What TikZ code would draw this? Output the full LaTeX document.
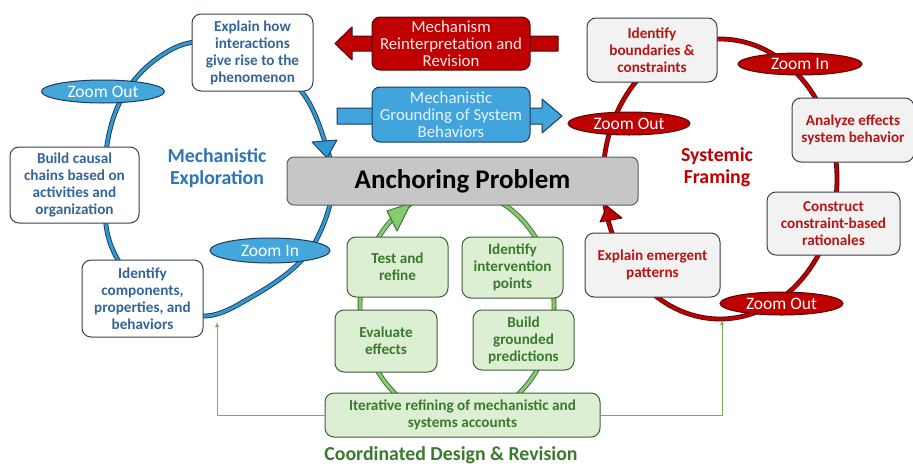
\documentclass[tikz,border=0pt]{standalone}
\usepackage{fontspec}
\setmainfont{Carlito}
\usetikzlibrary{arrows.meta,shapes.geometric}
\definecolor{cBlueDark}{HTML}{1D3B58}
\definecolor{cBlueMid}{HTML}{3198D2}
\definecolor{cBlueZoom}{HTML}{45A6DC}
\definecolor{cBlueText}{HTML}{34659A}
\definecolor{cMechText}{HTML}{2E75B6}
\definecolor{cBorder}{HTML}{38424E}
\definecolor{cRed}{HTML}{C00000}
\definecolor{cRedDark}{HTML}{520808}
\definecolor{cRedText}{HTML}{B81414}
\definecolor{cGrayBox}{HTML}{F2F2F2}
\definecolor{cAnchor}{HTML}{C6C6C6}
\definecolor{cAnchorBorder}{HTML}{5E5E5E}
\definecolor{cGreenFill}{HTML}{DDEFD3}
\definecolor{cGreenBorder}{HTML}{3F5E3E}
\definecolor{cGreenText}{HTML}{3A7A2C}
\definecolor{cGreenLine}{HTML}{86CB6E}
\definecolor{cGreenDark}{HTML}{3A6A34}
\definecolor{cGreenThin}{HTML}{74B055}
\definecolor{cArrowBlue}{HTML}{42A4DC}
\begin{document}
\begin{tikzpicture}[x=1pt,y=-1pt,
  boxtext/.style={align=center, inner sep=1pt, font=\fontsize{15.2}{17}\selectfont\bfseries},
  bluebox/.style={boxtext, draw=cBorder, line width=1pt, fill=white, rounded corners=9pt, text=cBlueText},
  redbox/.style={boxtext, draw=cBorder, line width=1pt, fill=cGrayBox, rounded corners=9pt, text=cRedText},
  greenbox/.style={boxtext, draw=cGreenBorder, line width=1pt, fill=cGreenFill, rounded corners=9pt, text=cGreenText},
  zoomb/.style={ellipse, draw=cBlueDark, line width=1pt, fill=cBlueZoom, text=white, inner sep=0pt, font=\fontsize{17.5}{17.5}\selectfont},
  zoomr/.style={ellipse, draw=cRedDark, line width=1pt, fill=cRed, text=white, inner sep=0pt, font=\fontsize{17.5}{17.5}\selectfont},
  bigarrowbox/.style={rounded corners=8pt, line width=1pt, align=center, inner sep=1pt, font=\fontsize{16.8}{17}\selectfont},
  blueloop/.style={draw=cBlueDark, double=cBlueMid, double distance=3pt, line width=0.9pt},
  redloop/.style={draw=cRedDark, double=cRed, double distance=3pt, line width=0.9pt},
  greenloop/.style={draw=cGreenDark, double=cGreenLine, double distance=3pt, line width=0.9pt},
  thingreen/.style={draw=cGreenThin, line width=1pt, -{Latex[length=5pt,width=4pt]}},
  phase/.style={align=center, font=\fontsize{19.8}{22}\selectfont\bfseries}
]
\useasboundingbox (0,0) rectangle (913,466);
\fill[white] (0,0) rectangle (913,466);

% loop centres
\coordinate (rc) at (720,179);
\coordinate (gc) at (457,305);

% blue loop
\draw[blueloop] plot[smooth cycle, tension=0.6] coordinates {(195,42) (252,50) (302,92) (326,145) (333,185) (322,228) (299,263) (255,295) (205,316) (150,298) (112,248) (104,190) (109,134) (125,93) (155,60)};
\filldraw[fill=cBlueMid, draw=cBlueDark, line width=0.9pt, line join=round] (312,142) -- (337,140) -- (327,158) -- cycle;

% red loop
\draw[redloop] (rc) ellipse [x radius=117pt, y radius=140pt];
\filldraw[fill=cRed, draw=cRedDark, line width=0.9pt, line join=round] (600,222) -- (622,218) -- (607,206) -- cycle;

% green loop
\draw[greenloop] (gc) ellipse [x radius=97pt, y radius=115pt];
\filldraw[fill=cGreenLine, draw=cGreenDark, line width=0.9pt, line join=round] (387,211) -- (397,231) -- (411,203) -- cycle;

% big block arrows
\filldraw[fill=cRed, draw=cRedDark, line width=1pt, line join=round]
  (558,36) -- (352,36) -- (352,27) -- (335,43.5) -- (352,60) -- (352,51) -- (558,51) -- cycle;
\node[bigarrowbox, fill=cRed, draw=cRedDark, text=white!92!cRed, minimum width=158pt, minimum height=53pt] (mri) at (451,43.5) {Mechanism\\Reinterpretation and\\Revision};
\filldraw[fill=cArrowBlue, draw=cBlueDark, line width=1pt, line join=round]
  (337,108) -- (542,108) -- (542,99) -- (562,116) -- (542,133) -- (542,124) -- (337,124) -- cycle;
\node[bigarrowbox, fill=cArrowBlue, draw=cBlueDark, text=white!88!cArrowBlue, minimum width=158pt, minimum height=55pt] (mgs) at (451,114.5) {Mechanistic\\Grounding of System\\Behaviors};

% anchoring problem
\node[draw=cAnchorBorder, fill=cAnchor, line width=1pt, rounded corners=7pt, minimum width=351pt, minimum height=48pt, font=\fontsize{27}{27}\selectfont\bfseries, text=black] (anchor) at (462.5,181) {Anchoring Problem};

% blue cycle nodes
\node[bluebox, minimum width=121pt, minimum height=77pt] (explain) at (252.5,52.5) {Explain how\\interactions\\give rise to the\\phenomenon};
\node[bluebox, minimum width=129pt, minimum height=76pt] (causal) at (74.5,185) {Build causal\\chains based on\\activities and\\organization};
\node[bluebox, minimum width=121pt, minimum height=77pt] (ident) at (142.5,298.5) {Identify\\components,\\properties, and\\behaviors};
\node[zoomb, minimum width=123pt, minimum height=23pt] (bzo) at (103,91.5) {Zoom Out};
\node[zoomb, minimum width=120pt, minimum height=25pt] (bzi) at (270,250.5) {Zoom In};
\node[phase, text=cMechText] (mexp) at (217,168) {Mechanistic\\Exploration};

% red cycle nodes
\node[redbox, minimum width=130pt, minimum height=64pt] (bound) at (652,50) {Identify\\boundaries \&\\constraints};
\node[redbox, minimum width=122pt, minimum height=64pt] (analyze) at (853,130) {Analyze effects\\system behavior};
\node[redbox, minimum width=133pt, minimum height=63pt] (construct) at (833.5,223.5) {Construct\\constraint-based\\rationales};
\node[redbox, minimum width=135pt, minimum height=64pt] (emerg) at (652.5,265) {Explain emergent\\patterns};
\node[zoomr, minimum width=124pt, minimum height=22pt] (rzi) at (800,64) {Zoom In};
\node[zoomr, minimum width=123pt, minimum height=23pt] (rzo2) at (781.5,303.5) {Zoom Out};
\node[zoomr, minimum width=122pt, minimum height=23pt] (rzo1) at (629,123.5) {Zoom Out};
\node[phase, text=cRed] (sysf) at (717,167) {Systemic\\Framing};

% green nodes
\node[greenbox, minimum width=101pt, minimum height=60pt] (test) at (397.5,267) {Test and\\refine};
\node[greenbox, minimum width=101pt, minimum height=61pt] (interv) at (512.5,267.5) {Identify\\intervention\\points};
\node[greenbox, minimum width=102pt, minimum height=62pt] (evalf) at (386,341) {Evaluate\\effects};
\node[greenbox, minimum width=101pt, minimum height=60pt] (build) at (523.5,340) {Build\\grounded\\predictions};
\node[greenbox, minimum width=275pt, minimum height=44pt] (iter) at (462.5,415) {Iterative refining of mechanistic and\\systems accounts};
\node[phase, text=cGreenText] (cdr) at (451,455) {Coordinated Design \& Revision};

% thin green connectors
\coordinate (gl) at (217,322);
\coordinate (gr) at (722,320);
\draw[thingreen] (iter.west) -| (gl);
\draw[thingreen] (iter.east) -| (gr);
\end{tikzpicture}
\end{document}
